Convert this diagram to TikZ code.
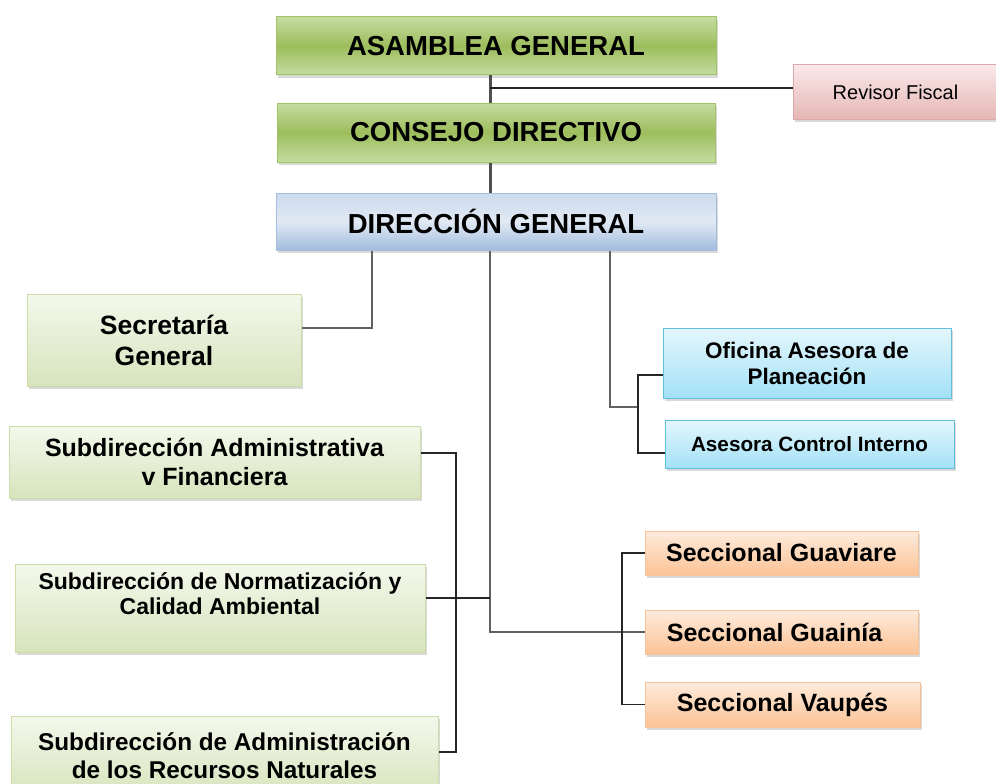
\documentclass[tikz,border=0pt]{standalone}
\usepackage{fontspec}
\setmainfont{Liberation Sans}
\usepackage{tikz}
\usetikzlibrary{calc,shadows}

\definecolor{gtop}{HTML}{C6DCA2}
\definecolor{gmid}{HTML}{9DBD5C}
\definecolor{gline}{HTML}{A3C266}
\definecolor{btop}{HTML}{CBDAEE}
\definecolor{bmid}{HTML}{E1E9F4}
\definecolor{bbot}{HTML}{A2BCDE}
\definecolor{bline}{HTML}{A6BEDD}
\definecolor{ptop}{HTML}{F9E9E8}
\definecolor{pbot}{HTML}{E5B7B6}
\definecolor{pline}{HTML}{DCA9A8}
\definecolor{ltop}{HTML}{F4F8EC}
\definecolor{lbot}{HTML}{D7E4BD}
\definecolor{lline}{HTML}{CCDDAA}
\definecolor{ctop}{HTML}{E4F6FC}
\definecolor{cbot}{HTML}{A3E1F6}
\definecolor{cline}{HTML}{62BFDA}
\definecolor{otop}{HTML}{FEEBDC}
\definecolor{obot}{HTML}{FBC396}
\definecolor{oline}{HTML}{F7C39A}
\definecolor{wire}{HTML}{505050}

\tikzset{
  unitbox/.style={rectangle, align=center, inner sep=0pt, line width=1pt,
    drop shadow={shadow xshift=2pt, shadow yshift=-3pt, opacity=0.3}},
  topbox/.style={unitbox, draw=gline, top color=gtop, bottom color=gtop, middle color=gmid,
    font=\fontsize{27.5}{30}\selectfont\bfseries},
  dirbox/.style={unitbox, draw=bline, top color=btop, bottom color=bbot, middle color=bmid,
    font=\fontsize{27.5}{30}\selectfont\bfseries},
  fiscalbox/.style={unitbox, draw=pline, top color=ptop, bottom color=pbot,
    font=\fontsize{20}{23}\selectfont},
  subbox/.style={unitbox, draw=lline, top color=ltop, bottom color=lbot,
    font=\fontsize{25}{29}\selectfont\bfseries},
  advbox/.style={unitbox, draw=cline, top color=ctop, bottom color=cbot,
    font=\fontsize{22.5}{26}\selectfont\bfseries},
  secbox/.style={unitbox, draw=oline, top color=otop, bottom color=obot,
    font=\fontsize{25}{29}\selectfont\bfseries},
  trunkline/.style={draw=wire, line width=3pt},
  midline/.style={draw=wire!90, line width=2pt},
  thinline/.style={draw=black!85, line width=1.3pt}
}

\begin{document}
\begin{tikzpicture}[x=1pt,y=-1pt]
    \path[use as bounding box] (0,0) rectangle (996,784);
    \clip (0,0) rectangle (996,784);
    % top of the chart
    \node[topbox, minimum width=440, minimum height=58] (ag) at (496,46) {ASAMBLEA GENERAL};
    \node[topbox, minimum width=438, minimum height=59] (cd) at (496,132.5) {CONSEJO DIRECTIVO};
    \node[dirbox, minimum width=440, minimum height=57] (dg) at (496,221.5) {DIRECCI\'ON GENERAL};
    \node[fiscalbox, minimum width=205, minimum height=54] (rf) at (895.5,92) {Revisor Fiscal};
    % left side
    \node[subbox, font=\fontsize{26.5}{31}\selectfont\bfseries, minimum width=274, minimum height=92] (sg) at (164,340) {Secretar\'ia\\General};
    \node[subbox, minimum width=411, minimum height=72] (sa) at (214.5,462) {Subdirecci\'on Administrativa\\v Financiera};
    \node[subbox, font=\fontsize{23}{25}\selectfont\bfseries, text depth=28pt, minimum width=410, minimum height=88] (sn) at (220,608) {Subdirecci\'on de Normatizaci\'on y\\Calidad Ambiental};
    \node[subbox, font=\fontsize{24.3}{28}\selectfont\bfseries, minimum width=427, minimum height=80] (sr) at (224.5,756) {Subdirecci\'on de Administraci\'on\\de los Recursos Naturales};
    % right side
    \node[advbox, minimum width=288, minimum height=70] (op) at (807,363) {Oficina Asesora de\\Planeaci\'on};
    \node[advbox, font=\fontsize{20.7}{24}\selectfont\bfseries, minimum width=289, minimum height=48] (ci) at (809.5,444) {Asesora Control Interno};
    \node[secbox, minimum width=273, minimum height=44] (sgv) at (781.5,553) {Seccional Guaviare};
    \node[secbox, minimum width=273, minimum height=44] (sgn) at (781.5,632) {Seccional Guain\'ia\hspace*{14pt}};
    \node[secbox, minimum width=275, minimum height=45] (svp) at (782.5,704.5) {Seccional Vaup\'es};
    % connectors
    \coordinate (trunk) at (490,0);
    \coordinate (rfj) at (490,88);
    \draw[trunkline] (ag.south -| trunk) -- (cd.north -| trunk);
    \draw[thinline] (rfj) -- (rf.west |- rfj);
    \draw[trunkline] (cd.south -| trunk) -- (dg.north -| trunk);
    \draw[midline] (dg.south -| trunk) |- (sgn.west);
    \coordinate (sgj) at (372,328);
    \draw[midline] (dg.south -| sgj) |- (sg.east |- sgj);
    \coordinate (opj) at (610,407);
    \coordinate (opbus) at (638,0);
    \draw[midline] (dg.south -| opj) |- (opj -| opbus);
    \coordinate (opy) at (0,375);
    \coordinate (ciy) at (0,453);
    \draw[thinline] (op.west |- opy) -| (opbus |- ciy) -- (ci.west |- ciy);
    % seccionales
    \coordinate (scbus) at (622,0);
    \draw[thinline] (sgv.west) -| (scbus |- svp.west) -- (svp.west);
    % subdirecciones
    \coordinate (sdbus) at (456,0);
    \coordinate (say) at (0,453);
    \coordinate (sny) at (0,598);
    \coordinate (sry) at (0,752);
    \draw[thinline] (sa.east |- say) -| (sdbus |- sry) -- (sr.east |- sry);
    \draw[thinline] (sn.east |- sny) -- (trunk |- sny);
\end{tikzpicture}
\end{document}
